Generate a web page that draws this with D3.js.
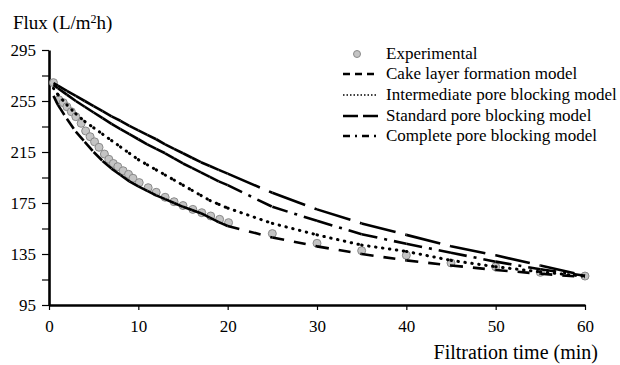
<!DOCTYPE html>
<html>
<head>
<meta charset="utf-8">
<script src="https://cdn.jsdelivr.net/npm/d3@7"></script>
<style>
body { margin: 0; background: #fff; }
svg text { font-family: "Times New Roman", "Liberation Serif", "DejaVu Serif", serif !important; fill: #000; }
</style>
</head>
<body>
<div id="my_dataviz"></div>
<script>
// experimental points
var expTime = [0.5, 1.1, 1.6, 2, 2.5, 3, 3.6, 4.1, 4.6, 5.1, 5.6, 6.2, 6.7, 7.2, 7.7, 8.3, 8.9, 9.4, 10.1,
  11.1, 12, 13, 14, 15, 16.1, 17.1, 18.1, 19.1, 20.1, 25, 30, 35, 40, 45, 50, 55, 60];
var expFlux = [269.4, 256, 253.7, 250.5, 246.6, 242.7, 237.5, 231.5, 227, 223, 218.7, 213.4, 209.3, 206, 203.5, 200.3, 197.5, 194.4, 191,
  187, 183.4, 179.5, 176, 173, 170, 167.4, 164.8, 162.2, 159.6, 151, 143.4, 137.6, 134, 128, 125, 120.6, 117.7];

// model curves
var modelTime = [0.5, 1, 2, 3, 4, 5, 6, 7, 8, 9, 10, 11, 12, 13, 14, 15, 16, 17, 18, 19, 20, 25, 30, 35, 40, 45, 50, 55, 60];
var cakeFlux = [259, 252, 241, 231, 223, 215, 208, 202, 197, 192, 188, 184.5, 181, 178, 175, 172, 169.5, 167, 163.5, 160, 157,
  148, 141, 135, 130, 126, 122.5, 119.5, 117];
var intermediateFlux = [265, 260, 252, 245, 239, 234, 229, 224, 219, 214, 209, 205, 201, 197, 193, 189, 185, 181, 177, 174, 171,
  159, 150, 142, 137, 130, 125, 121, 117.5];
var standardFlux = [269, 267, 263, 259, 255, 251, 247, 243, 239.5, 235.5, 232, 228.5, 225, 221, 217.5, 214, 210.5, 207, 204, 201, 198,
  183, 170, 159, 150, 141, 134, 126, 118];
var completeFlux = [267.5, 265, 260, 255, 250.5, 246, 241.5, 237, 233, 229, 225, 221, 217.5, 214, 210, 206, 202.5, 199, 195.5, 192, 189,
  172, 161, 150.5, 143, 136, 129, 123, 118];

// axes
var xTicks = [0, 10, 20, 30, 40, 50, 60];
var yTicks = [95, 115, 135, 155, 175, 195, 215, 235, 255, 275, 295];
var yLabels = [95, 135, 175, 215, 255, 295];

var legendNames = ["Experimental", "Cake layer formation model", "Intermediate pore blocking model",
  "Standard pore blocking model", "Complete pore blocking model"];

var width = 620, height = 365;
var serif = '"Times New Roman", "Liberation Serif", serif';

var svg = d3.select("#my_dataviz")
  .append("svg")
  .attr("width", width)
  .attr("height", height)
  .attr("font-family", serif);

var x = d3.scaleLinear().domain([0, 60]).range([49, 585]);
var y = d3.scaleLinear().domain([95, 295]).range([305, 50]);

// X axis
var xAxis = svg.append("g")
  .attr("transform", "translate(0," + y(95) + ")")
  .call(d3.axisBottom(x).tickValues(xTicks).tickSize(5).tickSizeOuter(0).tickPadding(10));
xAxis.attr("font-family", serif).attr("font-size", 17);
xAxis.select(".domain").attr("stroke-width", 2.6);
xAxis.selectAll(".tick line").attr("stroke-width", 1.2);

// Y axis
var yAxis = svg.append("g")
  .attr("transform", "translate(" + x(0) + ",0)")
  .call(d3.axisLeft(y).tickValues(yTicks).tickSize(7).tickSizeOuter(0).tickPadding(6)
    .tickFormat(function(d) { return yLabels.indexOf(d) >= 0 ? d : ""; }));
yAxis.attr("font-family", serif).attr("font-size", 17);
yAxis.select(".domain").attr("stroke-width", 2.6);
yAxis.selectAll(".tick line").attr("stroke-width", 1.2);

// axis titles
var ytitle = svg.append("text")
  .attr("x", 13)
  .attr("y", 29)
  .style("font-size", "19px");
ytitle.append("tspan").text("Flux (L/m");
ytitle.append("tspan").attr("dy", -6).style("font-size", "12px").text("2");
ytitle.append("tspan").attr("dy", 6).text("h)");

svg.append("text")
  .attr("x", 598)
  .attr("y", 359)
  .attr("text-anchor", "end")
  .style("font-size", "20px")
  .text("Filtration time (min)");

// experimental points (drawn under the model lines)
svg.append("g")
  .selectAll("circle")
  .data(d3.zip(expTime, expFlux))
  .enter()
  .append("circle")
  .attr("cx", function(d) { return x(d[0]); })
  .attr("cy", function(d) { return y(d[1]); })
  .attr("r", 4)
  .style("fill", "#c4c4c4")
  .style("stroke", "#8a8a8a")
  .style("stroke-width", 1);

// each segment restarts its dash pattern, so the dense part looks solid
var line = d3.line()
  .x(function(d) { return x(d[0]); })
  .y(function(d) { return y(d[1]); });

var models = [
  {flux: cakeFlux, dash: "12,10", w: 2.6, cap: "butt"},
  {flux: intermediateFlux, dash: "0.5,6.5", w: 3, cap: "round"},
  {flux: standardFlux, dash: "35,10", w: 2.6, cap: "butt"},
  {flux: completeFlux, dash: "16,7,3,7", w: 2.6, cap: "butt"}
];

models.forEach(function(m) {
  svg.append("g")
    .selectAll("path")
    .data(d3.pairs(d3.zip(modelTime, m.flux)))
    .enter()
    .append("path")
    .attr("d", line)
    .style("fill", "none")
    .style("stroke", "#000")
    .style("stroke-width", m.w)
    .style("stroke-linecap", m.cap)
    .style("stroke-dasharray", m.dash);
});

// legend
var legendY = [54, 74, 95, 116, 136];
var legendDash = [null, "7,5", "1.5,2", "15,5", "7,5,2,5"];
var legend = svg.append("g");

legendNames.forEach(function(name, i) {
  if (i === 0) {
    legend.append("circle")
      .attr("cx", 357).attr("cy", legendY[i]).attr("r", 3.5)
      .style("fill", "#c4c4c4").style("stroke", "#8a8a8a").style("stroke-width", 1);
  } else {
    legend.append("line")
      .attr("x1", 343).attr("x2", 378)
      .attr("y1", legendY[i]).attr("y2", legendY[i])
      .style("stroke", "#000")
      .style("stroke-width", i === 2 ? 1.6 : 2.4)
      .style("stroke-dasharray", legendDash[i]);
  }
  legend.append("text")
    .attr("x", 386)
    .attr("y", legendY[i] + 5)
    .style("font-size", "17px")
    .text(name);
});
</script>
</body>
</html>
